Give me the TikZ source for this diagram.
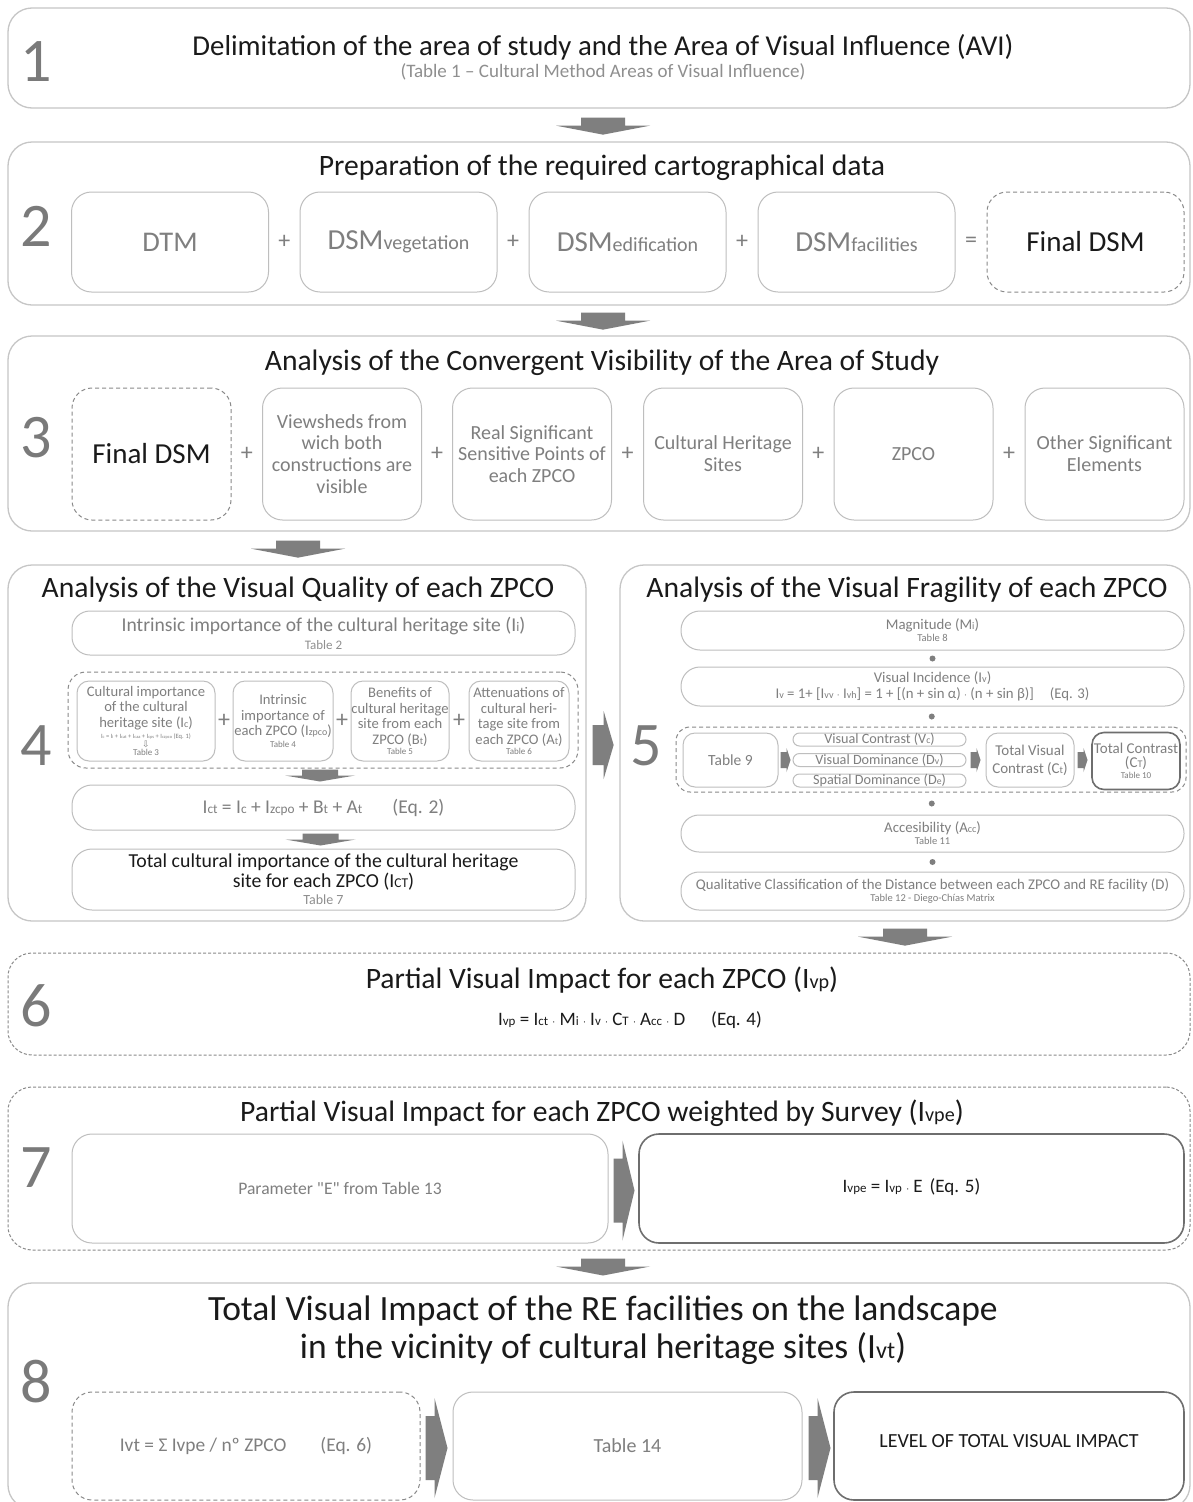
\documentclass[tikz,border=0pt]{standalone}
\usepackage{fontspec}
\setmainfont{Carlito}
\newfontfamily\dejavu{DejaVu Sans}
\usepackage{graphicx}
\usetikzlibrary{calc}
\definecolor{obord}{HTML}{C6C6C6}
\definecolor{ibord}{HTML}{BEBEBE}
\definecolor{dgray}{HTML}{8A8A8A}
\definecolor{kbord}{HTML}{6E6E6E}
\definecolor{tgray}{HTML}{7F7F7F}
\definecolor{lgray}{HTML}{8F8F8F}
\definecolor{ngray}{HTML}{7A7A7A}
\definecolor{agray}{HTML}{7F7F7F}
\definecolor{tblack}{HTML}{1A1A1A}
\newcommand\fz[2]{\fontsize{#1}{#2}\selectfont}
\newcommand\lo[1]{\scalebox{0.68}{#1}}
\newcommand\cdt{{\fontspec{DejaVu Sans}\fz{9}{9}·}}
% down block arrow: top-centre, shaft half width, head half width, shaft length, head length
\newcommand\downarr[5]{\fill[agray] (#1) ++(-#2,0) -- ++(2*#2,0) -- ++(0,#4) -- ++(#3-#2,0) -- ++(-#3,#5) -- ++(-#3,-#5) -- ++(#3-#2,0) -- cycle;}
% right block arrow: left-centre, shaft half height, head half height, shaft length, head length
\newcommand\rightarr[5]{\fill[agray] (#1) ++(0,-#2) -- ++(#4,0) -- ++(0,#2-#3) -- ++(#5,#3) -- ++(-#5,#3) -- ++(0,#2-#3) -- ++(-#4,0) -- cycle;}
\begin{document}
\begin{tikzpicture}[x=1pt,y=-1pt,
  outer/.style={draw=obord, line width=1.3, rounded corners=24, inner sep=0},
  outerd/.style={outer, draw=dgray, line width=1, dash pattern=on 3 off 2},
  ibox/.style={draw=ibord, line width=1, rounded corners=16, align=center, text=tgray, inner sep=0},
  dbox/.style={ibox, draw=dgray, dash pattern=on 4 off 3},
  kbox/.style={ibox, draw=kbord, line width=1.6},
  num/.style={text=ngray, font=\fz{62}{62}, inner sep=0},
  ttl/.style={text=tblack, font=\fz{29.6}{34}, align=center, inner sep=0},
  plus/.style={text=tgray, font=\fz{24}{24}, inner sep=0},
  dot/.style={circle, fill=tgray, inner sep=0, minimum size=6}
]
\useasboundingbox (0,0) rectangle (1192,1502);
\fill[white] (0,0) rectangle (1192,1502);

% ---------- Section 1 ----------
\node[outer, minimum width=1182, minimum height=100] (s1) at (599,58) {};
\node[num] (n1) at (36,62) {1};
\node[ttl, font=\fz{28.8}{34}] (t1) at (603,47) {Delimitation of the area of study and the Area of Visual Influence (AVI)};
\node[text=lgray, font=\fz{19}{20}, inner sep=0] (t1b) at (603,72) {(Table 1 – Cultural Method Areas of Visual Influence)};

% ---------- Section 2 ----------
\node[outer, minimum width=1182, minimum height=163] (s2) at (599,223.5) {};
\downarr{$(s1.south)+(4,9)$}{22}{47}{8}{9}
\node[num] (n2) at (36,226) {2};
\node[ttl] (t2) at (602,168) {Preparation of the required cartographical data};
\node[ibox, rounded corners=20, minimum width=197, minimum height=100, font=\fz{28.5}{30}] (dtm) at (170,242) {DTM};
\node[ibox, rounded corners=20, minimum width=197, minimum height=100, font=\fz{29}{30}] (dveg) at (398.5,242) {DSM{\fz{20}{20}vegetation}};
\node[ibox, rounded corners=20, minimum width=197, minimum height=100, font=\fz{29}{30}] (dedi) at (627.5,242) {DSM{\fz{20}{20}edification}};
\node[ibox, rounded corners=20, minimum width=197, minimum height=100, font=\fz{29}{30}] (dfac) at (856.5,242) {DSM{\fz{20}{20}facilities}};
\node[dbox, rounded corners=20, minimum width=197, minimum height=100, font=\fz{29}{30}, text=tblack] (fdsm) at (1085.5,242) {Final DSM};
\node[plus] (p21) at ($(dtm.east)!0.5!(dveg.west)$) {+};
\node[plus] (p22) at ($(dveg.east)!0.5!(dedi.west)$) {+};
\node[plus] (p23) at ($(dedi.east)!0.5!(dfac.west)$) {+};
\node[plus] (p24) at ($(dfac.east)!0.5!(fdsm.west)$) {=};

% ---------- Section 3 ----------
\node[outer, minimum width=1182, minimum height=195] (s3) at (599,433.5) {};
\downarr{$(s2.south)+(4,7)$}{22}{47}{8}{9}
\node[num] (n3) at (36,438) {3};
\node[ttl] (t3) at (602,363) {Analysis of the Convergent Visibility of the Area of Study};
\node[dbox, rounded corners=20, minimum width=159, minimum height=132, font=\fz{29}{30}, text=tblack] (b31) at (151.5,454) {Final DSM};
\node[ibox, rounded corners=20, minimum width=159, minimum height=132, font=\fz{20}{21.8}] (b32) at (342,454) {Viewsheds from\\wich both\\constructions are\\visible};
\node[ibox, rounded corners=20, minimum width=159, minimum height=132, font=\fz{20}{21.8}] (b33) at (532,454) {Real Significant\\Sensitive Points of\\each ZPCO};
\node[ibox, rounded corners=20, minimum width=159, minimum height=132, font=\fz{20}{21.8}] (b34) at (723,454) {Cultural Heritage\\Sites};
\node[ibox, rounded corners=20, minimum width=159, minimum height=132, font=\fz{20}{21.8}] (b35) at (913.5,454) {ZPCO};
\node[ibox, rounded corners=20, minimum width=159, minimum height=132, font=\fz{20}{21.8}] (b36) at (1104.5,454) {Other Significant\\Elements};
\node[plus] (p31) at ($(b31.east)!0.5!(b32.west)$) {+};
\node[plus] (p32) at ($(b32.east)!0.5!(b33.west)$) {+};
\node[plus] (p33) at ($(b33.east)!0.5!(b34.west)$) {+};
\node[plus] (p34) at ($(b34.east)!0.5!(b35.west)$) {+};
\node[plus] (p35) at ($(b35.east)!0.5!(b36.west)$) {+};

% ---------- Section 4 ----------
\node[outer, minimum width=578, minimum height=356] (s4) at (297,743) {};
\downarr{$(s3.south)+(-301,9)$}{22}{47}{8}{9}
\node[num] (n4) at (36,746) {4};
\node[ttl] (t4) at (298,590) {Analysis of the Visual Quality of each ZPCO};
\node[ibox, rounded corners=18, minimum width=503, minimum height=44, font=\fz{19.6}{19}] (ii) at (323.5,633) {Intrinsic importance of the cultural heritage site (I\lo{i})\\[-1pt]{\fz{13}{13}\color{lgray}Table 2}};
\node[dbox, rounded corners=18, minimum width=510, minimum height=96] (g4) at (323,720) {};
\node[ibox, rounded corners=12, minimum width=138, minimum height=80, font=\fz{14.6}{15.5}] (c41) at (146,721) {Cultural importance\\of the cultural\\heritage site (I\lo{c})\\[-4pt]{\fz{6.5}{7}I\lo{c} = I\lo{i} + I\lo{cat} + I\lo{caa} + I\lo{cps} + I\lo{czpco} (Eq. 1)}\\[-7pt]{\dejavu\fz{9}{9}⇩}\\[-7pt]{\fz{9}{9}Table 3}};
\node[ibox, rounded corners=12, minimum width=100, minimum height=80, font=\fz{14.6}{15.5}] (c42) at (283,721) {Intrinsic\\importance of\\each ZPCO (I\lo{zpco})\\[-4pt]{\fz{9}{9}Table 4}};
\node[ibox, rounded corners=12, minimum width=98, minimum height=80, font=\fz{14.6}{15.5}] (c43) at (400,721) {Benefits of\\cultural heritage\\site from each\\ZPCO (B\lo{t})\\[-5pt]{\fz{9}{9}Table 5}};
\node[ibox, rounded corners=12, minimum width=100, minimum height=80, font=\fz{14.6}{15.5}] (c44) at (519,721) {Attenuations of\\cultural heri-\\tage site from\\each ZPCO (A\lo{t})\\[-5pt]{\fz{9}{9}Table 6}};
\node[plus] (p41) at ($(c41.east)!0.5!(c42.west)$) {+};
\node[plus] (p42) at ($(c42.east)!0.5!(c43.west)$) {+};
\node[plus] (p43) at ($(c43.east)!0.5!(c44.west)$) {+};
\node[ibox, rounded corners=20, minimum width=503, minimum height=45, font=\fz{19.5}{19}] (ict) at (323.5,807.5) {I\lo{ct} = I\lo{c} + I\lo{zcpo} + B\lo{t} + A\lo{t}\hspace{30pt}(Eq. 2)};
\node[ibox, rounded corners=20, minimum width=503, minimum height=61, font=\fz{19.8}{20}, text=tblack] (tci) at (323.5,879.5) {Total cultural importance of the cultural heritage\\site for each ZPCO (I\lo{CT})\\[-3pt]{\fz{14}{14}\color{lgray}Table 7}};
\downarr{$(g4.south)+(-3,1)$}{18}{35}{6}{6}
\downarr{$(ict.south)+(-3,3)$}{18}{35}{6}{6}

% ---------- Section 5 ----------
\node[outer, minimum width=570, minimum height=356] (s5) at (905,743) {};
\rightarr{$(s4.east)+(6,2)$}{20}{34}{11}{10}
\node[num] (n5) at (646,746) {5};
\node[ttl] (t5) at (907,590) {Analysis of the Visual Fragility of each ZPCO};
\node[ibox, rounded corners=19, minimum width=503, minimum height=39, font=\fz{14.8}{14}] (mag) at (932.5,630.5) {Magnitude (M\lo{i})\\[-2pt]{\fz{10.5}{10}Table 8}};
\node[ibox, rounded corners=19, minimum width=503, minimum height=39, font=\fz{14.8}{16.5}] (vi) at (932.5,686.5) {Visual Incidence (I\lo{v})\\I\lo{v} = 1+ [I\lo{vv} \cdt{} I\lo{vh}] = 1 + [(n + sin α) \cdt{} (n + sin β)]\hspace{16pt}(Eq. 3)};
\node[dbox, rounded corners=14, minimum width=510, minimum height=65] (g5) at (931,759.5) {};
\node[ibox, rounded corners=12, minimum width=95, minimum height=54, font=\fz{15.5}{16}] (t9) at (730.5,760) {Table 9};
\node[ibox, rounded corners=6.5, minimum width=173, minimum height=13, font=\fz{14.2}{12}, inner sep=0] (vc) at (879.5,739.5) {Visual Contrast (V\lo{c})};
\node[ibox, rounded corners=6.5, minimum width=173, minimum height=13, font=\fz{14.2}{12}, inner sep=0] (vd) at (879.5,760) {Visual Dominance (D\lo{v})};
\node[ibox, rounded corners=6.5, minimum width=173, minimum height=13, font=\fz{14.2}{12}, inner sep=0] (sd) at (879.5,780.5) {Spatial Dominance (D\lo{e})};
\node[ibox, rounded corners=12, minimum width=88, minimum height=54, font=\fz{15}{18}] (tvc) at (1030,760) {Total Visual\\Contrast (C\lo{t})};
\node[kbox, rounded corners=12, minimum width=88, minimum height=57, font=\fz{15}{14}] (tc) at (1136,761) {Total Contrast\\(C\lo{T})\\[-3pt]{\fz{9}{9}Table 10}};
\rightarr{$(t9.east)+(2,0)$}{8}{12}{6}{4}
\rightarr{$(vd.east)+(4,0)$}{8}{12}{6}{4}
\rightarr{$(tvc.east)+(3,0)$}{8}{12}{6}{4}
\node[ibox, rounded corners=18, minimum width=503, minimum height=37, font=\fz{14.8}{14}] (acc) at (932.5,833.5) {Accesibility (A\lo{cc})\\[-2pt]{\fz{10.5}{10}Table 11}};
\node[ibox, rounded corners=18, minimum width=503, minimum height=38, font=\fz{14.8}{14}] (qcd) at (932.5,891) {Qualitative Classification of the Distance between each ZPCO and RE facility (D)\\[-2pt]{\fz{10.5}{10}Table 12 - Diego-Chías Matrix}};
\node[dot] (d1) at ($(mag.south)!0.5!(vi.north)$) {};
\node[dot] (d2) at ($(vi.south)!0.5!(g5.north)$) {};
\node[dot] (d3) at ($(g5.south)!0.5!(acc.north)$) {};
\node[dot] (d4) at ($(acc.south)!0.5!(qcd.north)$) {};

% ---------- Section 6 ----------
\node[outerd, minimum width=1182, minimum height=102] (s6) at (599,1004) {};
\downarr{$(s5.south)+(0,7)$}{22}{47}{8}{9}
\node[num] (n6) at (36,1006) {6};
\node[ttl] (t6) at (602,980) {Partial Visual Impact for each ZPCO (I\lo{vp})};
\node[text=tblack, font=\fz{19}{19}, inner sep=0] (f6) at (630,1020) {I\lo{vp} = I\lo{ct} \cdt{} M\lo{i} \cdt{} I\lo{v} \cdt{} C\lo{T} \cdt{} A\lo{cc} \cdt{} D\hspace{26pt}(Eq. 4)};

% ---------- Section 7 ----------
\node[outerd, minimum width=1182, minimum height=163] (s7) at (599,1168.5) {};
\node[num] (n7) at (36,1168) {7};
\node[ttl] (t7) at (602,1113) {Partial Visual Impact for each ZPCO weighted by Survey (I\lo{vpe})};
\node[ibox, rounded corners=20, minimum width=536, minimum height=109, font=\fz{17.6}{17}] (pe) at (340,1188.5) {Parameter {\addfontfeature{Ligatures=TeXOff}"E"} from Table 13};
\node[kbox, rounded corners=20, minimum width=545, minimum height=109, font=\fz{19}{19}, text=tblack] (ivpe) at (911.5,1188.5) {\raisebox{5pt}{I\lo{vpe} = I\lo{vp} \cdt{} E\hspace{7pt}(Eq. 5)}};
\rightarr{$(pe.east)+(5,2)$}{32}{50}{9}{12}

% ---------- Section 8 ----------
\node[outer, minimum width=1182, minimum height=226] (s8) at (599,1396) {};
\downarr{$(s7.south)+(4,8)$}{22}{47}{8}{9}
\node[num] (n8) at (36,1382) {8};
\node[ttl, font=\fz{35.5}{38}] (t8) at (603,1330) {Total Visual Impact of the RE facilities on the landscape\\in the vicinity of cultural heritage sites (I\lo{vt})};
\node[dbox, rounded corners=20, minimum width=348, minimum height=108, font=\fz{19.4}{19}] (ivt) at (246,1446) {Ivt = Σ Ivpe / nº ZPCO\hspace{34pt}(Eq. 6)};
\node[ibox, rounded corners=20, minimum width=349, minimum height=108, font=\fz{20}{20}] (t14) at (627.5,1446) {Table 14};
\node[kbox, rounded corners=20, minimum width=350, minimum height=108, font=\fz{20}{20}, text=tblack] (lvl) at (1009,1446) {\raisebox{10pt}{LEVEL OF TOTAL VISUAL IMPACT}};
\rightarr{$(ivt.east)+(5,2)$}{32}{50}{9}{13}
\rightarr{$(t14.east)+(6,2)$}{32}{50}{9}{13}
\end{tikzpicture}
\end{document}
